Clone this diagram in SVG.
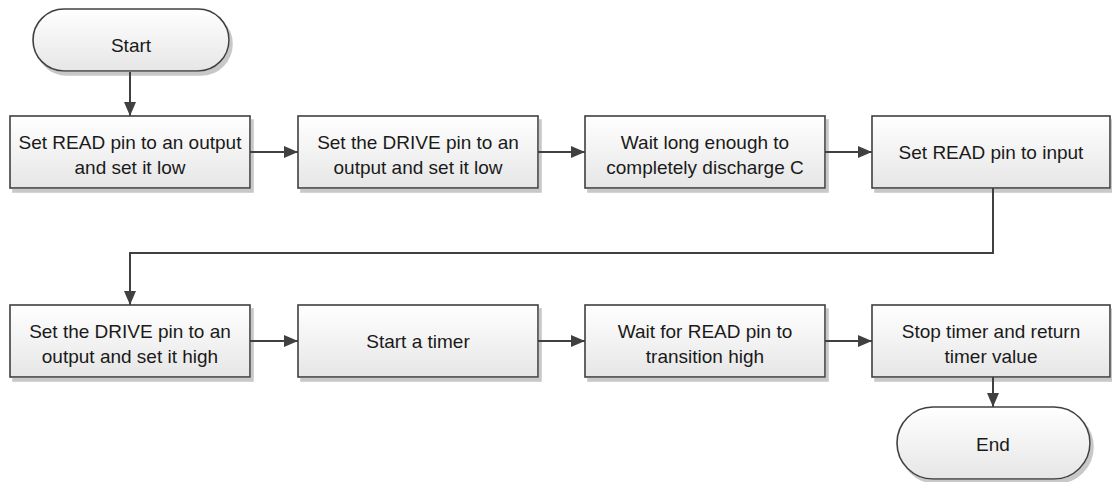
<svg xmlns="http://www.w3.org/2000/svg" width="1112" height="482" viewBox="0 0 1112 482">
<defs>
<linearGradient id="g" x1="0" y1="0" x2="0" y2="1">
<stop offset="0" stop-color="#ffffff"/>
<stop offset="1" stop-color="#e6e6e6"/>
</linearGradient>
<marker id="ah" markerWidth="14" markerHeight="12" refX="14" refY="6" orient="auto" markerUnits="userSpaceOnUse">
<path d="M0,0 L14,6 L0,12 Z" fill="#404040"/>
</marker>
<filter id="sh" x="-5%" y="-5%" width="115%" height="130%">
<feOffset dx="3" dy="4" in="SourceAlpha" result="o"/>
<feFlood flood-color="#c8c8c8"/>
<feComposite in2="o" operator="in"/>
<feMerge><feMergeNode/><feMergeNode in="SourceGraphic"/></feMerge>
</filter>
</defs>
<style>
.box{fill:url(#g);stroke:#404040;stroke-width:1.6;filter:url(#sh)}
.t{font-family:"Liberation Sans",Arial,sans-serif;font-size:19px;fill:#1a1a1a;text-anchor:middle}
.c{fill:none;stroke:#404040;stroke-width:2;marker-end:url(#ah)}
</style>
<rect width="1112" height="482" fill="#ffffff"/>
<g id="start"><rect class="box" x="33" y="9" width="196" height="62" rx="31" ry="31"/><text class="t" x="131" y="52">Start</text></g>
<g id="n1"><rect class="box" x="10" y="116" width="240" height="72"/><text class="t" x="130" y="149">Set READ pin to an output</text><text class="t" x="130" y="174">and set it low</text></g>
<g id="n2"><rect class="box" x="298" y="116" width="240" height="72"/><text class="t" x="418" y="149">Set the DRIVE pin to an</text><text class="t" x="418" y="174">output and set it low</text></g>
<g id="n3"><rect class="box" x="585" y="116" width="240" height="72"/><text class="t" x="705" y="149">Wait long enough to</text><text class="t" x="705" y="174">completely discharge C</text></g>
<g id="n4"><rect class="box" x="872" y="116" width="238" height="72"/><text class="t" x="991" y="159">Set READ pin to input</text></g>
<g id="n5"><rect class="box" x="10" y="305" width="240" height="72"/><text class="t" x="130" y="338">Set the DRIVE pin to an</text><text class="t" x="130" y="363">output and set it high</text></g>
<g id="n6"><rect class="box" x="298" y="305" width="240" height="72"/><text class="t" x="418" y="348">Start a timer</text></g>
<g id="n7"><rect class="box" x="585" y="305" width="240" height="72"/><text class="t" x="705" y="338">Wait for READ pin to</text><text class="t" x="705" y="363">transition high</text></g>
<g id="n8"><rect class="box" x="872" y="305" width="238" height="72"/><text class="t" x="991" y="338">Stop timer and return</text><text class="t" x="991" y="363">timer value</text></g>
<g id="end"><rect class="box" x="897" y="407" width="193" height="72" rx="36" ry="36"/><text class="t" x="993" y="451">End</text></g>
<g id="connectors">
<path class="c" d="M130,72 V116"/>
<path class="c" d="M250,152 H298"/>
<path class="c" d="M538,152 H585"/>
<path class="c" d="M825,152 H872"/>
<path class="c" d="M993,188 V253 H130 V305"/>
<path class="c" d="M250,341 H298"/>
<path class="c" d="M538,341 H585"/>
<path class="c" d="M825,341 H872"/>
<path class="c" d="M993,377 V407"/>
</g>
</svg>
